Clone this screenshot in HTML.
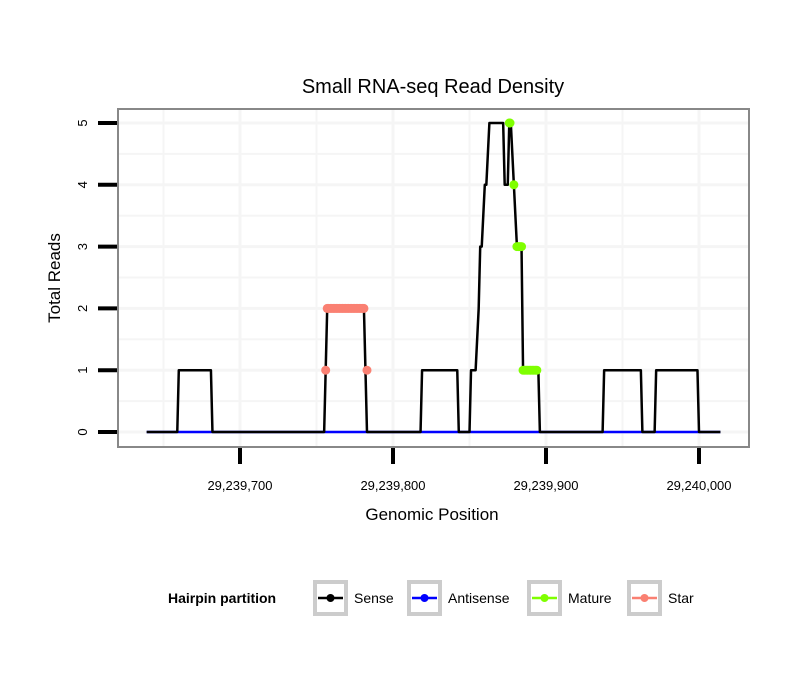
<!DOCTYPE html>
<html><head><meta charset="utf-8"><style>
body{margin:0;background:#fff;}
svg{font-family:"Liberation Sans",sans-serif;}
</style></head><body>
<svg id="chart" width="810" height="690" viewBox="0 0 810 690">
<text x="433" y="93" font-size="20" text-anchor="middle">Small RNA-seq Read Density</text>
<rect x="118" y="109" width="631" height="338" fill="#fff"/>
<g id="grid"></g>
<g id="series"></g>
<rect x="118" y="109" width="631" height="338" fill="none" stroke="#888" stroke-width="2"/>
<g id="axes"></g>
<text x="432" y="520" font-size="17" text-anchor="middle">Genomic Position</text>
<text transform="translate(60,278) rotate(-90)" font-size="17" text-anchor="middle">Total Reads</text>
<g>
<text x="168" y="603" font-size="14" font-weight="bold">Hairpin partition</text>
<g id="legend-items"></g>
</g>
</svg>
<script>
const xTicks=[29239700,29239800,29239900,29240000];
const xTickLabels=["29,239,700","29,239,800","29,239,900","29,240,000"];
const yTicks=[0,1,2,3,4,5];
const senseX=[29239639,29239659,29239660,29239681,29239682,29239755,29239756,29239757,29239781,29239782,29239783,29239818,29239819,29239842,29239843,29239850,29239851,29239854,29239856,29239857,29239858,29239860,29239861,29239863,29239872,29239873,29239875,29239876,29239877,29239879,29239881,29239884,29239885,29239895,29239896,29239937,29239938,29239962,29239963,29239971,29239972,29239999,29240000,29240014];
const senseY=[0,0,1,1,0,0,1,2,2,1,0,0,1,1,0,0,1,1,2,3,3,4,4,5,5,4,4,5,5,4,3,3,1,1,0,0,1,1,0,0,1,1,0,0];
const antisenseX=[29239639,29240014];
const antisenseY=[0,0];
const matureX=[29239876,29239876.5,29239879,29239881,29239882,29239883,29239884,29239885,29239886,29239887,29239888,29239889,29239890,29239891,29239892,29239893,29239894];
const matureY=[5,5,4,3,3,3,3,1,1,1,1,1,1,1,1,1,1];
const starX=[29239756,29239757,29239758,29239759,29239760,29239761,29239762,29239763,29239764,29239765,29239766,29239767,29239768,29239769,29239770,29239771,29239772,29239773,29239774,29239775,29239776,29239777,29239778,29239779,29239780,29239781,29239783];
const starY=[1,2,2,2,2,2,2,2,2,2,2,2,2,2,2,2,2,2,2,2,2,2,2,2,2,2,1];
const legendLabels=["Sense","Antisense","Mature","Star"];
const legendColors=["#000","#0000ff","#7fff00","#fa8072"];

const NS="http://www.w3.org/2000/svg";
function xs(v){return 240+(v-29239700)*1.53;}
function ys(v){return 432-v*61.8;}
function mk(tag,attrs,parent){const e=document.createElementNS(NS,tag);for(const k in attrs)e.setAttribute(k,attrs[k]);parent.appendChild(e);return e;}
const grid=document.getElementById('grid'),ser=document.getElementById('series'),axes=document.getElementById('axes');
for(let v=29239650;v<=29240000;v+=50){const x=xs(v);if(x<118||x>749)continue;
 const l=mk('line',{x1:x,x2:x,y1:110,y2:446,stroke:'#f5f5f5','stroke-width':v%100==0?3:2},grid);
 
 }
for(let v=0;v<=5;v+=0.5){const y=ys(v);if(y<110)continue;
 const l=mk('line',{x1:119,x2:748,y1:y,y2:y,stroke:'#f5f5f5','stroke-width':v%1==0?3:2},grid);
 
 }
function line(X,Y,color,name){const p=mk('polyline',{points:X.map((x,i)=>xs(x)+','+ys(Y[i])).join(' '),fill:'none',stroke:color,'stroke-width':2.5,'stroke-linejoin':'round'},ser);
 
 }
function pts(X,Y,color,name){X.forEach((x,i)=>{const c=mk('circle',{cx:xs(x),cy:ys(Y[i]),r:4.5,fill:color},ser);
 
 });}
line(antisenseX,antisenseY,'#0000ff','antisense-line');
line(senseX,senseY,'#000','sense-line');
pts(starX,starY,'#fa8072','star-point');
pts(matureX,matureY,'#7fff00','mature-point');
xTicks.forEach((v,i)=>{const x=xs(v);
 const t=mk('line',{x1:x,x2:x,y1:448,y2:464,stroke:'#000','stroke-width':4},axes);
 
 
 const tx=mk('text',{x:x,y:490,'font-size':13,'text-anchor':'middle'},axes);tx.textContent=xTickLabels[i];
 
 });
yTicks.forEach(v=>{const y=ys(v);
 const t=mk('line',{x1:98,x2:117,y1:y,y2:y,stroke:'#000','stroke-width':4},axes);
 
 
 const tx=mk('text',{transform:'translate(87,'+y+') rotate(-90)','font-size':13,'text-anchor':'middle'},axes);tx.textContent=v;
 
 });
const li=document.getElementById('legend-items');const bx=[313,407,527,627];
legendLabels.forEach((lab,i)=>{const g=mk('g',{},li);
 
 
 mk('rect',{x:bx[i]+2,y:582,width:31,height:32,fill:'#fff',stroke:'#ccc','stroke-width':4},g);
 mk('line',{x1:bx[i]+5,x2:bx[i]+30,y1:598,y2:598,stroke:legendColors[i],'stroke-width':2.5},g);
 mk('circle',{cx:bx[i]+17.5,cy:598,r:4,fill:legendColors[i]},g);
 const t=mk('text',{x:bx[i]+41,y:603,'font-size':14},g);t.textContent=lab;});
</script>
</body></html>
